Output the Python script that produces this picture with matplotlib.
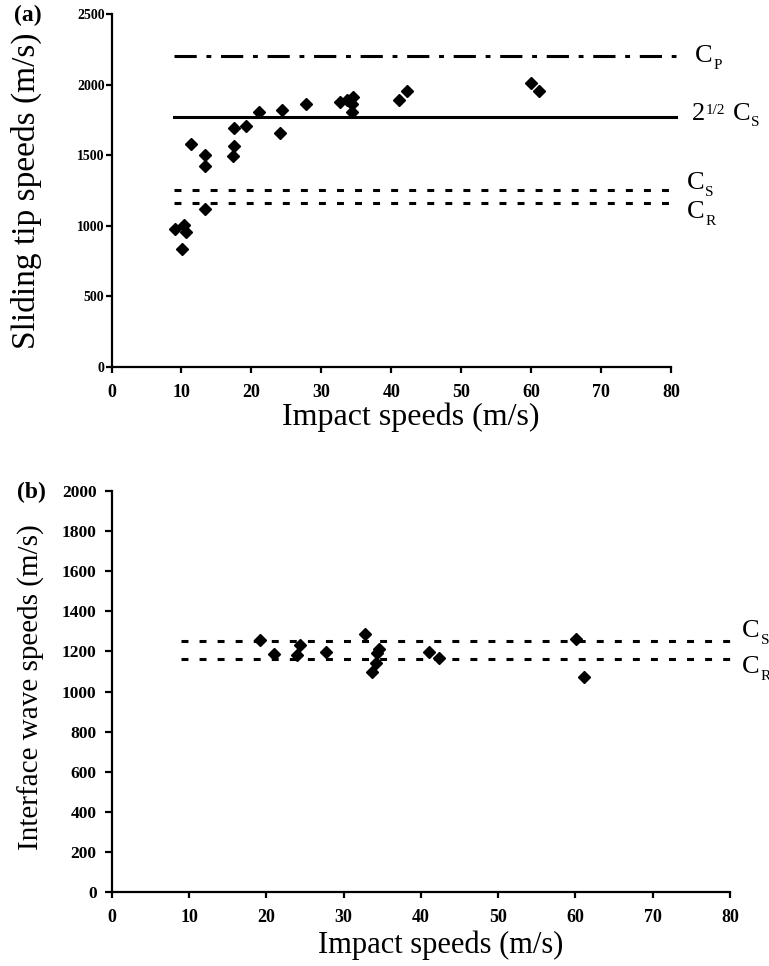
import matplotlib
matplotlib.use('Agg')
import matplotlib.pyplot as plt

plt.rcParams['font.family'] = 'Liberation Serif'
plt.rcParams['lines.scale_dashes'] = False

# (a) sliding tip speeds vs impact speed
tip_impact = [9.1, 10.1, 10.4, 10.6, 11.3, 13.4, 13.4, 13.4, 17.4, 17.5, 17.5, 19.3, 21.1,
              24.1, 24.4, 27.8, 32.7, 33.6, 34.4, 34.4, 34.6, 41.1, 42.3, 60.0, 61.1]
tip_speed = [979, 838, 1003, 956, 1577, 1501, 1426, 1117, 1494, 1567, 1690, 1709, 1804,
             1655, 1818, 1865, 1874, 1891, 1860, 1804, 1914, 1891, 1955, 2013, 1957]

# (b) interface wave speeds vs impact speed
wave_impact = [19.2, 21.0, 24.0, 24.3, 27.7, 32.8, 33.6, 34.2, 34.3, 34.6, 41.1, 42.3, 60.1, 61.1]
wave_speed = [1257, 1187, 1180, 1232, 1197, 1287, 1099, 1140, 1190, 1210, 1199, 1169, 1262, 1071]

# reference wave speeds (m/s)
C_P, SQRT2_CS, C_S, C_R = 2200, 1768, 1250, 1160
LINE_X = [9.0, 80.7]

X_TICKS = list(range(0, 81, 10))
YA_TICKS = list(range(0, 2501, 500))
YB_TICKS = list(range(0, 2001, 200))

DASH_P = dict(color='black', lw=2.2, dashes=(16, 7, 3.5, 7))
DASH_S = dict(color='black', lw=2.2, dashes=(5, 8))
SOLID = dict(color='black', lw=2.2)
MK = dict(ls='none', marker='D', ms=6.3, color='black', zorder=5, clip_on=False)

BIG, SMALL = 19, 11


def style_axes(ax, yticks, ylim, ysize, ypad, ylen):
    for s in ['top', 'right']:
        ax.spines[s].set_visible(False)
    for s in ['left', 'bottom']:
        ax.spines[s].set_linewidth(1.6)
    ax.set_xlim(0, 80); ax.set_ylim(*ylim)
    ax.set_xticks(X_TICKS)
    ax.set_xticklabels([str(t) for t in X_TICKS], fontweight='bold', fontsize=13)
    ax.set_yticks(yticks)
    ax.set_yticklabels([str(t) for t in yticks], fontweight='bold', fontsize=ysize)
    ax.tick_params(axis='x', direction='out', length=4, width=1.6, pad=8)
    ax.tick_params(axis='y', direction='out', length=ylen, width=1.6, pad=ypad)


def c_label(ax, x, y, sub, anchor=None):
    """'C' with a small subscript letter; y is the text centre in data units"""
    if anchor is None:
        t = ax.text(x, y, 'C', fontsize=BIG, va='center')
    else:
        t = ax.annotate('C', xy=(1, 0), xycoords=anchor, xytext=(5, 0),
                        textcoords='offset points', fontsize=BIG, va='bottom')
    ax.annotate(sub, xy=(1, 0), xycoords=t, xytext=(0.5, -3),
                textcoords='offset points', fontsize=SMALL, va='bottom')
    return t


fig = plt.figure(figsize=(7.69, 9.66), dpi=100)

# ---- panel (a)
ax1 = fig.add_axes([0.145, 0.6201, 0.7276, 0.3654])
style_axes(ax1, YA_TICKS, (0, 2500), 10, 1, 4)
ax1.plot(LINE_X, [C_P, C_P], clip_on=False, **DASH_P)
ax1.plot(LINE_X, [SQRT2_CS, SQRT2_CS], clip_on=False, **SOLID)
ax1.plot(LINE_X, [C_S, C_S], clip_on=False, **DASH_S)
ax1.plot(LINE_X, [C_R, C_R], clip_on=False, **DASH_S)
ax1.plot(tip_impact, tip_speed, **MK)
c_label(ax1, 83.4, C_P, 'P')
two = ax1.text(83.0, SQRT2_CS + 25, '2', fontsize=BIG, va='center')
half = ax1.annotate('1/2', xy=(1, 1), xycoords=two, xytext=(0.5, -1),
                    textcoords='offset points', fontsize=SMALL, va='top')
c_label(ax1, 0, 0, 'S', anchor=(half, two))
c_label(ax1, 82.2, C_S + 50, 'S')
c_label(ax1, 82.3, C_R - 65, 'R')
ax1.set_ylabel('Sliding tip speeds (m/s)', fontsize=24)
ax1.set_xlabel('Impact speeds (m/s)', fontsize=23)
ax1.yaxis.set_label_coords(-0.124, 0.50)
ax1.xaxis.set_label_coords(0.535, -0.1)
fig.text(0.036, 0.984, '(a)', fontsize=17, fontweight='bold', ha='center', va='center')

# ---- panel (b)
ax2 = fig.add_axes([0.1456, 0.0766, 0.8036, 0.4151])
style_axes(ax2, YB_TICKS, (0, 2000), 12.5, 6, 5)
ax2.plot(LINE_X, [C_S, C_S], clip_on=False, **DASH_S)
ax2.plot(LINE_X, [C_R, C_R], clip_on=False, **DASH_S)
ax2.plot(wave_impact, wave_speed, **MK)
c_label(ax2, 81.6, C_S + 50, 'S')
c_label(ax2, 81.6, C_R - 40, 'R')
ax2.set_ylabel('Interface wave speeds (m/s)', fontsize=21)
ax2.set_xlabel('Impact speeds (m/s)', fontsize=22)
ax2.yaxis.set_label_coords(-0.108, 0.51)
ax2.xaxis.set_label_coords(0.532, -0.095)
fig.text(0.041, 0.49, '(b)', fontsize=17, fontweight='bold', ha='center', va='center')

fig.patch.set_facecolor('white')
fig.savefig('out.png', dpi=100)
